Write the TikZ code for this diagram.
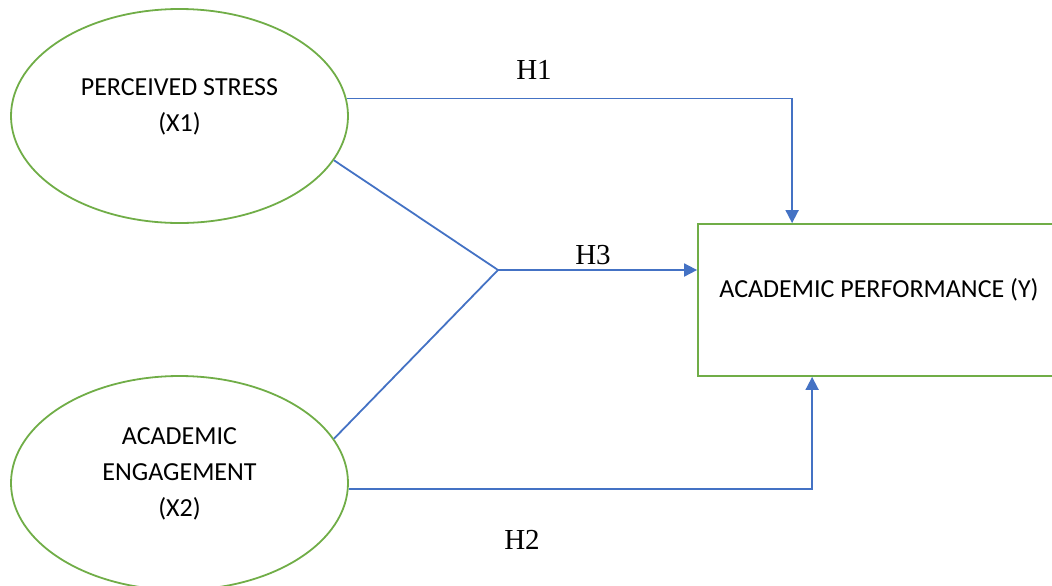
\documentclass[tikz,border=0pt]{standalone}
\usepackage{fontspec}
\setmainfont{Liberation Serif}
\newfontfamily\boxfont{Carlito}
\usetikzlibrary{arrows.meta,shapes.geometric,calc}
\definecolor{constgreen}{RGB}{112,173,71}
\definecolor{pathblue}{RGB}{68,114,196}
\begin{document}
\begin{tikzpicture}[x=0.5pt, y=-0.5pt,
      construct/.style={draw=constgreen, line width=0.9pt, ellipse, inner sep=0pt,
        minimum width=168.5pt, minimum height=107pt, align=center, text depth=11pt,
        font=\boxfont\fontsize{13}{18}\selectfont},
      outcome/.style={draw=constgreen, line width=0.9pt, inner sep=0pt, text depth=12pt,
        minimum width=181pt, minimum height=76pt, font=\boxfont\fontsize{13}{18}\selectfont},
      link/.style={draw=pathblue, line width=0.9pt},
      arrow/.style={link, -{Triangle[length=6.5pt,width=6.5pt]}},
      hyp/.style={font=\fontsize{14.5}{16}\selectfont, inner sep=1pt}
    ]
      \useasboundingbox (0,0) rectangle (1052,585);
      % constructs
      \node[construct] (ps) at (179.5,116) {PERCEIVED STRESS\\(X1)};
      \node[construct] (ae) at (179.5,483) {ACADEMIC\\ENGAGEMENT\\(X2)};
      \node[outcome] (ap) at (879,300) {ACADEMIC PERFORMANCE (Y)};
      \coordinate (jn) at (498,270);
      % paths
      \draw[arrow] (ps.6.5) -| ($(ap.north west)+(95,0)$);
      \draw[arrow] (ae.-2.7) -| ($(ap.south west)+(115,0)$);
      \draw[link] (ps.-16.8) -- (jn);
      \draw[link] (ae.16.4) -- (jn);
      \draw[arrow] (jn) -- (ap.west |- jn);
      % hypotheses
      \node[hyp] (h1) at (534,70) {H1};
      \node[hyp] (h3) at (593,255) {H3};
      \node[hyp] (h2) at (522,540) {H2};
    \end{tikzpicture}
\end{document}
